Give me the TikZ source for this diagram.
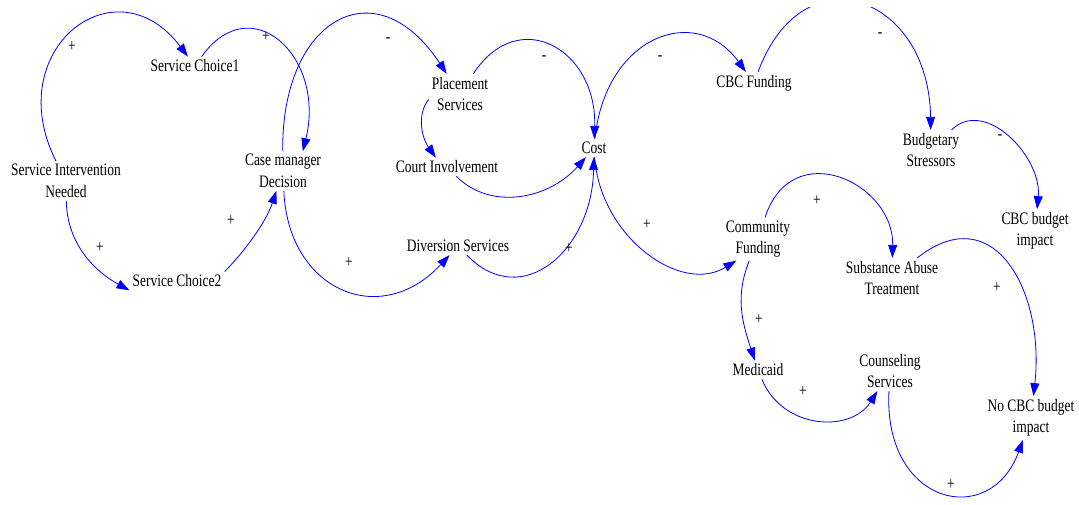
\documentclass[tikz,border=0pt]{standalone}
\usepackage{fontspec}
\setmainfont[FakeStretch=0.77]{Liberation Serif}
\usetikzlibrary{arrows.meta}
\tikzset{
  var/.style={font=\fontsize{17.5}{21.5}\selectfont, align=center, inner sep=3pt},
  pol/.style={font=\fontsize{17.5}{17.5}\selectfont, inner sep=0pt},
  link/.style={blue, line width=0.8pt, -{Triangle[length=13pt,width=9pt]}}
}
\begin{document}
\begin{tikzpicture}[x=1pt,y=-1pt]
\useasboundingbox (0,0) rectangle (1079,505);
\node [var] (sin) at (66,181) {Service Intervention\\Needed};
\node [var] (sc1) at (195,66) {Service Choice1};
\node [var] (sc2) at (177,281) {Service Choice2};
\node [var] (cmd) at (283,171) {Case manager\\Decision};
\node [var] (ps) at (460,94) {Placement\\Services};
\node [var] (ci) at (447,167) {Court Involvement};
\node [var] (ds) at (458,246) {Diversion Services};
\node [var] (cost) at (594,148) {Cost};
\node [var] (cbc) at (754,83) {CBC Funding};
\node [var] (bs) at (931,150) {Budgetary\\Stressors};
\node [var] (cbci) at (1035,231) {CBC budget\\impact};
\node [var] (cf) at (758,239) {Community\\Funding};
\node [var] (sat) at (892,278) {Substance Abuse\\Treatment};
\node [var] (med) at (758,370) {Medicaid};
\node [var] (cs) at (890,371) {Counseling\\Services};
\node [var] (nocbc) at (1031,418) {No CBC budget\\impact};
\draw [link] (sin) .. controls (0,50) and (115,-40) .. (sc1);
\draw [link] (sin) .. controls (67,245) and (96,272) .. (sc2.south west);
\draw [link] (sc1) .. controls (251,-13) and (326,57) .. (cmd.45);
\draw [link] (sc2.north east) .. controls (245,251) and (266,222) .. (cmd);
\draw [link] (cmd) .. controls (281,20) and (375,-35) .. (ps);
\draw [link] (cmd) .. controls (288,290) and (380,330) .. (ds);
\draw [link] (ps.190) .. controls (418,112) and (420,135) .. (ci.140);
\draw [link] (ps) .. controls (519,4) and (597,50) .. (cost);
\draw [link] (ci) .. controls (491,211) and (549,199) .. (cost);
\draw [link] (ds) .. controls (522,312) and (592,250) .. (cost);
\draw [link] (cost) .. controls (605,37) and (695,2) .. (cbc);
\begin{scope}
\clip (0,8) rectangle (1079,505);
\draw [link] (cbc) .. controls (803,-50) and (929,-5) .. (bs);
\end{scope}
\draw [link] (bs) .. controls (985,97) and (1042,157) .. (cbci);
\draw [link] (cost) .. controls (600,236) and (680,295) .. (cf.225);
\draw [link] (cf) .. controls (792,135) and (894,183) .. (sat);
\draw [link] (cf) .. controls (735,296) and (742,322) .. (med);
\draw [link] (sat) .. controls (994,197) and (1045,292) .. (nocbc);
\draw [link] (med) .. controls (783,430) and (851,433) .. (cs);
\draw [link] (cs) .. controls (883,505) and (990,530) .. (nocbc);
\node [pol] (s1) at (72,47) {+};
\node [pol] (s2) at (100,248) {+};
\node [pol] (s3) at (266,37) {+};
\node [pol] (s4) at (231,221) {+};
\node [pol] (s5) at (388,40) {-};
\node [pol] (s6) at (349,263) {+};
\node [pol] (s7) at (544,58) {-};
\node [pol] (s8) at (569,249) {+};
\node [pol] (s9) at (660,58) {-};
\node [pol] (s10) at (880,35) {-};
\node [pol] (s11) at (1000,137) {-};
\node [pol] (s12) at (647,225) {+};
\node [pol] (s13) at (817,201) {+};
\node [pol] (s14) at (759,320) {+};
\node [pol] (s15) at (997,288) {+};
\node [pol] (s16) at (803,392) {+};
\node [pol] (s17) at (951,485) {+};
\end{tikzpicture}
\end{document}
